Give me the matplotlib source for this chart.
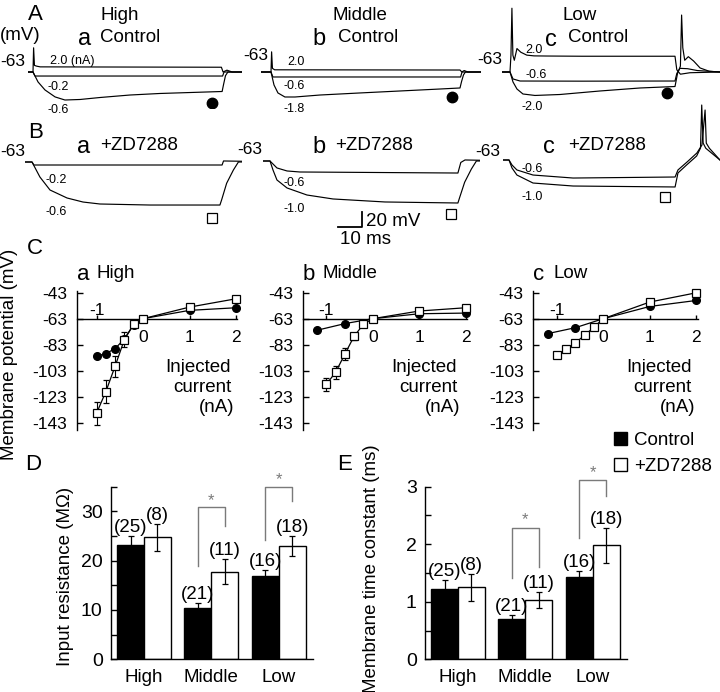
import matplotlib
matplotlib.use('Agg')
import matplotlib.pyplot as plt

plt.rcParams['font.family'] = ['Liberation Sans', 'DejaVu Sans']
plt.rcParams['axes.unicode_minus'] = False

# ======================= DATA =======================
REST = -63  # resting potential (mV)

# ---- Panel A (control traces): time (ms), membrane potential (mV)
AA_POS_T = [-2, 0, 0.25, 0.6, 1.5, 3, 78.5, 79.2, 80.8, 83, 87]
AA_POS_V = [-63, -63, -30, -54, -55, -56, -56.5, -63, -60.5, -63, -63]
AA_M02_T = [-2, 0, 0.8, 79, 79.6, 87]
AA_M02_V = [-63, -63, -68.5, -68.5, -63, -63]
AA_M06_T = [-2, 0, 2.1, 5, 9.2, 13.3, 19.6, 27.9, 40.4, 52.9, 65.4, 78.8, 79.4, 80.2, 81.2, 87]
AA_M06_V = [-63, -63, -76.6, -87.5, -97, -101.2, -100.5, -97.8, -94.4, -92.3, -91, -89.6, -80, -68, -63, -63]
AA_MARK = (74.6, -105.3)

AB_POS_T = [-4, 0, 0.25, 0.6, 1.5, 78.75, 79.5, 80.5, 82, 87.5]
AB_POS_V = [-63, -63, -35.5, -58, -60, -60.3, -63, -61, -63, -63]
AB_M06_T = [-4, 0, 0.8, 79, 79.6, 87.5]
AB_M06_V = [-63, -63, -69.8, -69.8, -63, -63]
AB_M18_T = [-4, 0, 1.25, 2.9, 5.8, 10, 20.4, 37, 53.75, 70.4, 78.75, 79.4, 80.2, 81, 87.5]
AB_M18_V = [-63, -63, -80.7, -91.6, -97.1, -97.1, -94.4, -91.6, -88.9, -86.2, -84.8, -76, -67, -63, -63]
AB_MARK = (75.4, -97.1)

AC_POS_T = [-3.5, 0, 0.4, 0.8, 1.2, 1.8, 2.9, 4.5, 7, 10, 15, 30, 68.75, 69.5, 71, 75, 87.5]
AC_POS_V = [-63, -63, -40, 24, -40, -47, -31, -36, -40, -41, -41.2, -41.5, -41.5, -60, -66, -64, -63]
AC_M06_T = [-3.5, 0, 1.25, 4.2, 30, 68.75, 69.5, 70.8, 74, 78, 87.5]
AC_M06_V = [-63, -63, -72.5, -75.3, -75.5, -75.3, -65, -58, -58.5, -61, -63]
AC_M20_T = [-3.5, 0, 1.25, 2.9, 5.4, 10.4, 20.8, 37.5, 54.2, 68.75, 69.8, 71, 71.5, 72, 72.8, 74.3, 76.5, 79.2, 83, 87.5]
AC_M20_V = [-63, -63, -76.6, -86.2, -93, -95, -93.7, -88.9, -84.8, -82.8, -65, -55, 14.7, -30, -47, -42.1, -48, -57.5, -62, -63]
AC_MARK = (65.4, -91.6)

# ---- Panel B (+ZD7288 traces)
BA_M02_T = [-3, 0, 0.8, 79.2, 79.8, 87.5]
BA_M02_V = [-63, -63, -67.1, -67.1, -61.6, -62]
BA_M06_T = [-3, 0, 3.3, 7.5, 14.6, 21.25, 28.3, 49.2, 78.3, 79, 81.1, 83.9, 86, 87.5]
BA_M06_V = [-63, -63, -83.5, -101.2, -112.1, -117.6, -120.3, -121.7, -121.7, -114.8, -92, -74, -63, -63]
BA_MARK = (75, -139.4)

BB_M06_T = [-3, 0, 2.9, 7.1, 12.5, 78.3, 79.5, 81.25, 87.5]
BB_M06_V = [-63, -63, -72.5, -76.6, -78, -79.4, -65, -61.6, -62]
BB_M10_T = [-3, 0, 1.25, 2.9, 7.1, 15.4, 26.25, 47.9, 78.3, 79, 81.1, 83.9, 86, 87.5]
BB_M10_V = [-63, -63, -75.3, -88.9, -99.8, -109.4, -114.8, -118.9, -120.3, -113, -92, -74, -63, -63]
BB_MARK = (75.4, -135.3)
SCALE_T = [28.3, 38.3, 38.3]      # 10 ms horizontal bar
SCALE_V = [-153, -153, -133]      # 20 mV vertical bar

BC_M06_T = [-2.5, 0, 1.25, 3.3, 10, 26.7, 69.2, 70.4, 74.2, 78.3, 80.4, 81.7, 82.2, 83.5, 87.9]
BC_M06_V = [-63, -63, -69.8, -76.6, -83.5, -87.6, -86.2, -76.6, -65.7, -53.4, -42.5, 5.2, -40, -47, -63]
BC_M10_T = [-2.5, 0, 1.25, 3.3, 10, 26.7, 69.2, 70.4, 74, 78.2, 79.8, 80.3, 80.9, 82, 87.9]
BC_M10_V = [-63, -63, -73.9, -83.5, -94.4, -98.5, -99.8, -80.7, -69.8, -57.5, -46.6, 12, -40, -47, -63]
BC_MARK = (65, -113.5)

# ---- Panel C (I-V relations)
I_ZD = [-1.0, -0.8, -0.6, -0.4, -0.2, 0, 1, 2]
I_CTRL_HIGH = [-1.0, -0.8, -0.6, -0.4, -0.2, 0, 1, 2]
V_CTRL_HIGH = [-91.8, -89.8, -86, -78.5, -67.5, -63, -56.6, -54.6]
V_ZD_HIGH = [-135.7, -119.1, -99.5, -79, -67.3, -63, -54.1, -47.7]
E_ZD_HIGH = [8.9, 8.9, 8, 5.7, 2, 0, 1.5, 1.5]

I_CTRL_MID = [-1.2, -0.6, 0, 1, 2]
V_CTRL_MID = [-71.9, -66.8, -63, -59.2, -58.7]
V_ZD_MID = [-113.5, -104.3, -90.3, -76.5, -67.3, -63, -57.1, -54.6]
E_ZD_MID = [5, 5, 4.5, 2.5, 1, 0, 1, 1]

I_CTRL_LOW = [-1.2, -0.6, 0, 1, 2]
V_CTRL_LOW = [-74.5, -69.9, -63, -53.6, -49]
V_ZD_LOW = [-91, -86.5, -81.4, -75.8, -69.4, -63, -50.2, -43.1]
E_ZD_LOW = [1, 1, 1, 1, 1, 0, 1, 1]

IV_YTICKS = [-143, -123, -103, -83, -63, -43]

# ---- Panels D & E (bar charts)
GROUPS = ['High', 'Middle', 'Low']
RIN_CTRL = [23.2, 10.5, 16.9]
RIN_CTRL_ERR = [1.8, 1.0, 1.2]
RIN_ZD = [24.7, 17.8, 23.0]
RIN_ZD_ERR = [2.7, 2.6, 2.0]
TAU_CTRL = [1.22, 0.70, 1.43]
TAU_CTRL_ERR = [0.15, 0.07, 0.10]
TAU_ZD = [1.25, 1.03, 1.98]
TAU_ZD_ERR = [0.23, 0.145, 0.30]
N_CTRL = [25, 21, 16]
N_ZD = [8, 11, 18]
# significance brackets: (group, top, left-leg bottom, right-leg bottom, star y)
SIG_D = [(1, 30.8, 19.0, 27.0, 32.2), (2, 35.0, 24.2, 32.2, 36.4)]
SIG_E = [(1, 2.285, 1.41, 1.61, 2.42), (2, 3.11, 2.10, 2.84, 3.25)]

# ======================= FIGURE =======================
W, H = 720, 692
fig = plt.figure(figsize=(7.2, 6.92), dpi=100)

ov = fig.add_axes([0, 0, 1, 1])
ov.set_xlim(0, W)
ov.set_ylim(H, 0)
ov.axis('off')

DY = 2


def T(x, y, s, size=13.5, ha='left', va='center', **kw):
    ov.text(x, y + DY, s, fontsize=size, ha=ha, va=va, **kw)


def px_axes(left, top, right, bottom):
    ax = fig.add_axes([left / W, 1 - bottom / H, (right - left) / W, (bottom - top) / H])
    ax.set_facecolor('none')
    return ax


PX_PER_MS = 2.4
PX_PER_MV = 0.733


def trace_axes(x0, y0, tlim, vlim):
    left = x0 + tlim[0] * PX_PER_MS
    right = x0 + tlim[1] * PX_PER_MS
    top = y0 - (vlim[1] - REST) * PX_PER_MV
    bottom = y0 - (vlim[0] - REST) * PX_PER_MV
    ax = px_axes(left, top, right, bottom)
    ax.set_xlim(*tlim)
    ax.set_ylim(*vlim)
    ax.axis('off')
    return ax


TLW = 0.85
# ---- A
ax = trace_axes(33, 72, (-2, 87), (-112, -25))
for t, v in [(AA_POS_T, AA_POS_V), (AA_M02_T, AA_M02_V), (AA_M06_T, AA_M06_V)]:
    ax.plot(t, v, color='k', lw=TLW)
ax.plot(*AA_MARK, 'o', color='k', ms=7.5)

ax = trace_axes(271, 72, (-4, 87.5), (-112, -30))
for t, v in [(AB_POS_T, AB_POS_V), (AB_M06_T, AB_M06_V), (AB_M18_T, AB_M18_V)]:
    ax.plot(t, v, color='k', lw=TLW)
ax.plot(*AB_MARK, 'o', color='k', ms=7.5)

ax = trace_axes(510, 72, (-3.5, 87.5), (-110, 30))
for t, v in [(AC_POS_T, AC_POS_V), (AC_M06_T, AC_M06_V), (AC_M20_T, AC_M20_V)]:
    ax.plot(t, v, color='k', lw=TLW)
ax.plot(*AC_MARK, 'o', color='k', ms=7.5)

# ---- B
SQ = dict(marker='s', ms=6.5, mfc='white', mec='k', mew=0.9, ls='none')
ax = trace_axes(32, 162, (-3, 87.5), (-148, -55))
for t, v in [(BA_M02_T, BA_M02_V), (BA_M06_T, BA_M06_V)]:
    ax.plot(t, v, color='k', lw=TLW)
ax.plot(*BA_MARK, **SQ)

ax = trace_axes(270, 161, (-3, 87.5), (-160, -55))
for t, v in [(BB_M06_T, BB_M06_V), (BB_M10_T, BB_M10_V)]:
    ax.plot(t, v, color='k', lw=TLW)
ax.plot(*BB_MARK, **SQ)
ax.plot(SCALE_T, SCALE_V, color='k', lw=1.3)

ax = trace_axes(509, 160, (-2.5, 87.9), (-122, 20))
for t, v in [(BC_M06_T, BC_M06_V), (BC_M10_T, BC_M10_V)]:
    ax.plot(t, v, color='k', lw=TLW)
ax.plot(*BC_MARK, **SQ)

# ---- Texts for A and B
T(28, 12, 'A', 16)
T(0, 33, '(mV)')
T(0, 60, '-63', 12.5)
T(100, 14, 'High')
T(78, 37, 'a', 17)
T(100, 36, 'Control')
T(50, 59, '2.0 (nA)', 9)
T(47, 85, '-0.2', 9)
T(47, 108, '-0.6', 9)
T(333, 14, 'Middle')
T(312, 37, 'b', 17)
T(338, 36, 'Control')
T(243, 53, '-63', 12.5)
T(287, 60, '2.0', 9)
T(283, 84, '-0.6', 9)
T(283, 107, '-1.8', 9)
T(563, 14, 'Low')
T(545, 38, 'c', 17)
T(568, 36, 'Control')
T(477, 57, '-63', 12.5)
T(525, 48, '2.0', 9)
T(525, 73, '-0.6', 9)
T(521, 105, '-2.0', 9)

T(28, 130, 'B', 16)
T(0, 150, '-63', 12.5)
T(77, 145, 'a', 17)
T(100, 143, '+ZD7288')
T(45, 178, '-0.2', 9)
T(45, 210, '-0.6', 9)
T(237, 147, '-63', 12.5)
T(312, 145, 'b', 17)
T(335, 143, '+ZD7288')
T(283, 181, '-0.6', 9)
T(283, 207, '-1.0', 9)
T(475, 149, '-63', 12.5)
T(543, 145, 'c', 17)
T(568, 143, '+ZD7288')
T(522, 167, '-0.6', 9)
T(522, 195, '-1.0', 9)
T(366, 219, '20 mV')
T(340, 238, '10 ms')

# ---- C : I-V plots
PX_PER_NA = 46.5
C_XMAX = 2.1


def iv_axes(spine_px, zero_px, letter, title, ictrl, vctrl, vzd, ezd, text_right):
    xmin = (spine_px - zero_px) / PX_PER_NA
    ax = px_axes(spine_px, 290.7, zero_px + C_XMAX * PX_PER_NA, 430)
    ax.set_xlim(xmin, C_XMAX)
    ax.set_ylim(-148.5, -41.5)
    for s in ['top', 'right']:
        ax.spines[s].set_visible(False)
    ax.spines['bottom'].set_position(('data', REST))
    ax.spines['bottom'].set_bounds(xmin, 2.03)
    for s in ['left', 'bottom']:
        ax.spines[s].set_linewidth(1.0)
    ax.set_yticks(IV_YTICKS)
    ax.set_yticklabels([str(v) for v in IV_YTICKS])
    ax.set_xticks([-1, 0, 1, 2])
    ax.set_xticklabels(['', '0', '1', '2'])
    ax.tick_params(axis='y', direction='in', length=4, width=1, pad=7, labelsize=12.5)
    ax.tick_params(axis='x', direction='in', length=3, width=1, pad=8, labelsize=12.5)
    ax.annotate('-1', xy=(-1, REST), xytext=(0, 2.5), textcoords='offset points',
                ha='center', va='baseline', fontsize=12.5)
    ax.plot(ictrl, vctrl, '-o', color='k', lw=0.9, ms=5.5, clip_on=False, zorder=3)
    ax.errorbar(I_ZD, vzd, yerr=ezd, fmt='-s', color='k', lw=0.9, ms=5.8, mfc='white',
                mec='k', mew=0.9, elinewidth=0.8, capsize=2, capthick=0.8, clip_on=False, zorder=4)
    x_l = spine_px
    T(x_l, 272, letter, 16)
    T(x_l + 20, 271, title)
    T(text_right, 365, 'Injected', ha='right')
    T(text_right, 386, 'current', ha='right')
    T(text_right + 3, 405, '(nA)', ha='right')
    return ax


iv_axes(77, 143, 'a', 'High', I_CTRL_HIGH, V_CTRL_HIGH, V_ZD_HIGH, E_ZD_HIGH, 231)
iv_axes(303, 372.7, 'b', 'Middle', I_CTRL_MID, V_CTRL_MID, V_ZD_MID, E_ZD_MID, 457)
iv_axes(533.3, 603.3, 'c', 'Low', I_CTRL_LOW, V_CTRL_LOW, V_ZD_LOW, E_ZD_LOW, 692)
T(27, 246, 'C', 16)
T(10, 352, 'Membrane potential (mV)', rotation=90, ha='center')

# ---- D & E : bar charts
BAR_W = 0.4


def bar_axes(left_px, right_px, yc, yce, yz, yze, ylim, major, minor, sig):
    ax = px_axes(left_px, 486.7, right_px, 659.3)
    x = list(range(len(GROUPS)))
    xc = [i - BAR_W / 2 for i in x]
    xz = [i + BAR_W / 2 for i in x]
    bc = ax.bar(xc, yc, BAR_W, color='black', edgecolor='black', lw=1.0, zorder=2)
    bz = ax.bar(xz, yz, BAR_W, color='white', edgecolor='black', lw=1.0, zorder=2)
    ax.errorbar(xc, yc, yerr=yce, fmt='none', ecolor='k', elinewidth=0.9, capsize=2, capthick=0.9, zorder=3)
    ax.errorbar(xz, yz, yerr=yze, fmt='none', ecolor='k', elinewidth=0.9, capsize=2, capthick=0.9, zorder=3)
    for xi, v, e, n in zip(xc, yc, yce, N_CTRL):
        ax.annotate(f'({n})', xy=(xi, v + e), xytext=(0, 0), textcoords='offset points',
                    ha='center', va='bottom', fontsize=13.5)
    for xi, v, e, n in zip(xz, yz, yze, N_ZD):
        ax.annotate(f'({n})', xy=(xi, v + e), xytext=(0, 0), textcoords='offset points',
                    ha='center', va='bottom', fontsize=13.5)
    gray = '#7a7a7a'
    for g, top, lb, rb, sy in sig:
        ax.plot([g - BAR_W / 2, g - BAR_W / 2, g + BAR_W / 2, g + BAR_W / 2], [lb, top, top, rb],
                color=gray, lw=1.0, clip_on=False)
        ax.text(g, sy, '*', color=gray, fontsize=12, ha='center', va='center')
    ax.set_xlim(-0.49, 2.51)
    ax.set_ylim(*ylim)
    for s in ['top', 'right']:
        ax.spines[s].set_visible(False)
    for s in ['left', 'bottom']:
        ax.spines[s].set_linewidth(1.0)
    ax.set_xticks(x)
    ax.set_xticklabels(GROUPS)
    ax.set_yticks(major)
    ax.set_yticks(minor, minor=True)
    ax.tick_params(axis='x', length=0, pad=7, labelsize=13.5)
    ax.tick_params(axis='y', which='both', direction='in', length=4, width=1, pad=6, labelsize=14)
    return ax, bc, bz


axd, bc, bz = bar_axes(111, 313, RIN_CTRL, RIN_CTRL_ERR, RIN_ZD, RIN_ZD_ERR, (0, 35),
                       [0, 10, 20, 30], [5, 15, 25, 35], SIG_D)
axe, _, _ = bar_axes(425, 627, TAU_CTRL, TAU_CTRL_ERR, TAU_ZD, TAU_ZD_ERR, (0, 3),
                     [0, 1, 2, 3], [0.5, 1.5, 2.5], SIG_E)
T(25, 463, 'D', 16)
T(337, 463, 'E', 16)
T(65, 574, 'Input resistance (MΩ)', rotation=90, ha='center')
T(372, 567, 'Membrane time constant (ms)', rotation=90, ha='center')

fig.legend([bc, bz], ['Control', '+ZD7288'], loc='upper left',
           bbox_to_anchor=(614 / W, 1 - 432 / H), frameon=False, fontsize=13.5,
           handlelength=0.7, handleheight=0.7, handletextpad=0.35, labelspacing=0.45,
           borderpad=0, borderaxespad=0)

fig.savefig('out.png', dpi=100)
